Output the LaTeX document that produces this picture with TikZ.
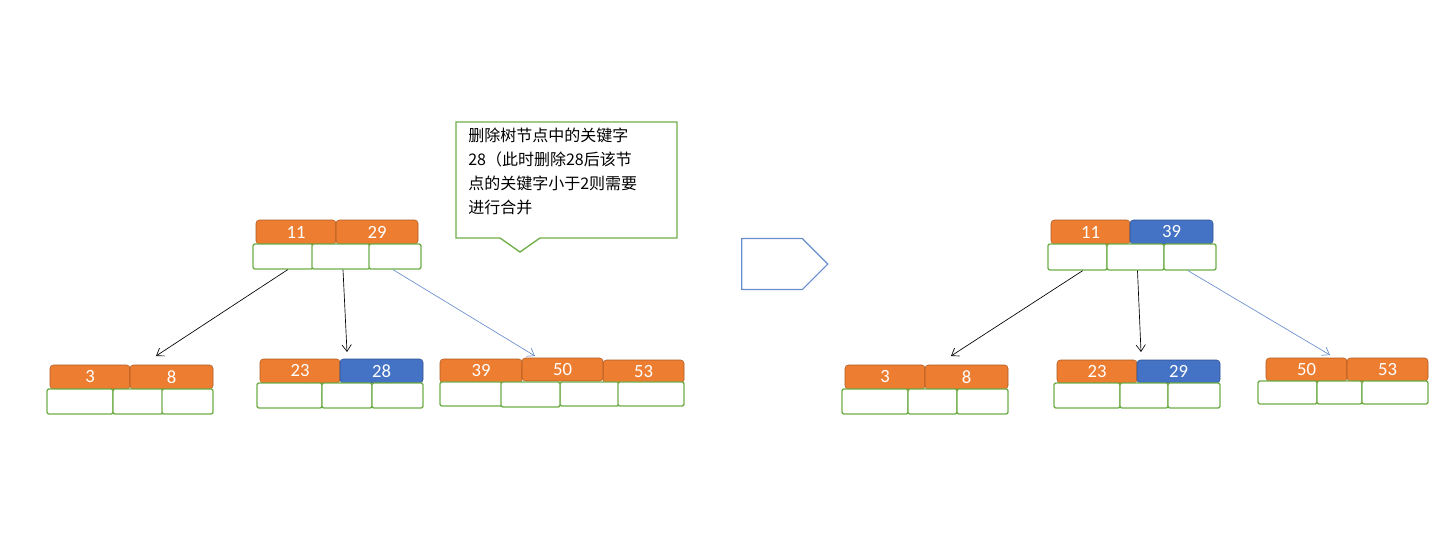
\documentclass[tikz,border=0pt]{standalone}
\usepackage{fontspec}
\setmainfont{Carlito}
\newfontfamily\cjk{Noto Sans CJK SC}
\usetikzlibrary{arrows.meta,shapes.arrows}
\definecolor{kor}{HTML}{ED7D31}\definecolor{korb}{HTML}{AE5A21}
\definecolor{kbl}{HTML}{4472C4}\definecolor{kblb}{HTML}{2F528F}
\definecolor{kgr}{HTML}{70AD47}
\tikzset{
 orkey/.style={fill=kor,draw=korb,rounded corners=2.5pt,text=white,font=\fontsize{14}{14}\selectfont},
 blkey/.style={fill=kbl,draw=kblb,rounded corners=2.5pt,text=white,font=\fontsize{14}{14}\selectfont},
 ptr/.style={fill=white,draw=kgr,line width=1pt,rounded corners=1.5pt},
 edge/.style={-{Straight Barb[length=5pt,width=7pt]},line width=0.5pt},
 bedge/.style={edge,draw=kbl!80}
}
\newcommand\kb[7]{%
 \pgfmathsetmacro\kw{0.75*(#3-#2)}\pgfmathsetmacro\kh{0.75*(#5-#4)}%
 \node[#6,minimum width=\kw pt,minimum height=\kh pt,inner sep=0pt,anchor=center] (#1) at ({(#2+#3)/2},{(#4+#5)/2}) {#7};}
\begin{document}
\begin{tikzpicture}[x=0.75pt,y=-0.75pt]
\useasboundingbox (0,0) rectangle (1440,543);
% left root
\kb{a1}{256}{336}{220}{244}{orkey}{11}
\kb{a2}{336}{418}{220}{244}{orkey}{29}
\kb{ap1}{253}{313}{244}{269}{ptr}{}
\kb{ap2}{312}{370}{244}{269}{ptr}{}
\kb{ap3}{369}{421}{244}{269}{ptr}{}
% leaf 1
\kb{b1}{50}{130}{365}{389}{orkey}{3}
\kb{b2}{130}{213}{365}{389}{orkey}{8}
\kb{bp1}{47}{113}{389}{414}{ptr}{}
\kb{bp2}{113}{163}{389}{414}{ptr}{}
\kb{bp3}{162}{213}{389}{414}{ptr}{}
% leaf 2
\kb{c1}{260}{340}{359}{383}{orkey}{23}
\kb{c2}{340}{423}{359}{383}{blkey}{28}
\kb{cp1}{257}{322}{383}{408}{ptr}{}
\kb{cp2}{322}{372}{383}{408}{ptr}{}
\kb{cp3}{372}{423}{383}{408}{ptr}{}
% leaf 3
\kb{d1}{440}{522}{359}{383}{orkey}{39}
\kb{d3}{603}{684}{360}{383}{orkey}{53}
\kb{d2}{522}{603}{358}{381}{orkey}{50}
\kb{dp1}{440}{502}{382}{406}{ptr}{}
\kb{dp3}{560}{619}{382}{406}{ptr}{}
\kb{dp2}{501}{560}{382}{407}{ptr}{}
\kb{dp4}{618}{684}{382}{406}{ptr}{}
\coordinate (e1) at (156,356);\coordinate (e2) at (347,352);\coordinate (e3) at (535,356);
\draw[edge] (ap1.south east)++(-26,0) -- (e1);
\draw[edge] (ap2.south)++(2,0) -- (e2);
\draw[bedge] (ap3.south)++(-2,0) -- (e3);
% callout
\draw[kgr,line width=1pt,fill=white] (456,122) -- (677,122) -- (677,238) -- (540,238) -- (520,252) -- (500,238) -- (456,238) -- cycle;
\node[anchor=north west,align=left,inner sep=0pt,font=\cjk\fontsize{12}{18}\selectfont] (note) at (468,128)
 {删除树节点中的关键字\\28（此时删除28后该节\\点的关键字小于2则需要\\进行合并};
% big arrow
\node[single arrow,draw=kbl!80,fill=white,line width=0.8pt,minimum height=86*0.75pt,minimum width=51*0.75pt,single arrow head extend=0pt,single arrow tip angle=90,inner sep=0pt] (arr) at (772,264) {};
% right root
\kb{r1}{1051}{1130}{220}{244}{orkey}{11}
\kb{r2}{1130}{1213}{220}{244}{blkey}{39}
\kb{rp1}{1048}{1107}{244}{270}{ptr}{}
\kb{rp2}{1107}{1164}{244}{270}{ptr}{}
\kb{rp3}{1164}{1216}{244}{270}{ptr}{}
\kb{s1}{845}{925}{365}{389}{orkey}{3}
\kb{s2}{925}{1008}{365}{389}{orkey}{8}
\kb{sp1}{842}{908}{389}{414}{ptr}{}
\kb{sp2}{908}{957}{389}{414}{ptr}{}
\kb{sp3}{957}{1008}{389}{414}{ptr}{}
\kb{t1}{1057}{1137}{360}{383}{orkey}{23}
\kb{t2}{1137}{1220}{360}{383}{blkey}{29}
\kb{tp1}{1054}{1120}{383}{408}{ptr}{}
\kb{tp2}{1120}{1168}{383}{408}{ptr}{}
\kb{tp3}{1168}{1220}{383}{408}{ptr}{}
\kb{u1}{1266}{1347}{358}{381}{orkey}{50}
\kb{u2}{1347}{1428}{358}{381}{orkey}{53}
\kb{up1}{1258}{1317}{381}{404}{ptr}{}
\kb{up2}{1317}{1362}{381}{404}{ptr}{}
\kb{up3}{1362}{1428}{381}{404}{ptr}{}
\coordinate (f1) at (951,356);\coordinate (f2) at (1141,352);\coordinate (f3) at (1330,355);
\draw[edge] (rp1.south east)++(-25,0) -- (f1);
\draw[edge] (rp2.south)++(2,0) -- (f2);
\draw[bedge] (rp3.south)++(-2,0) -- (f3);
\end{tikzpicture}
\end{document}
